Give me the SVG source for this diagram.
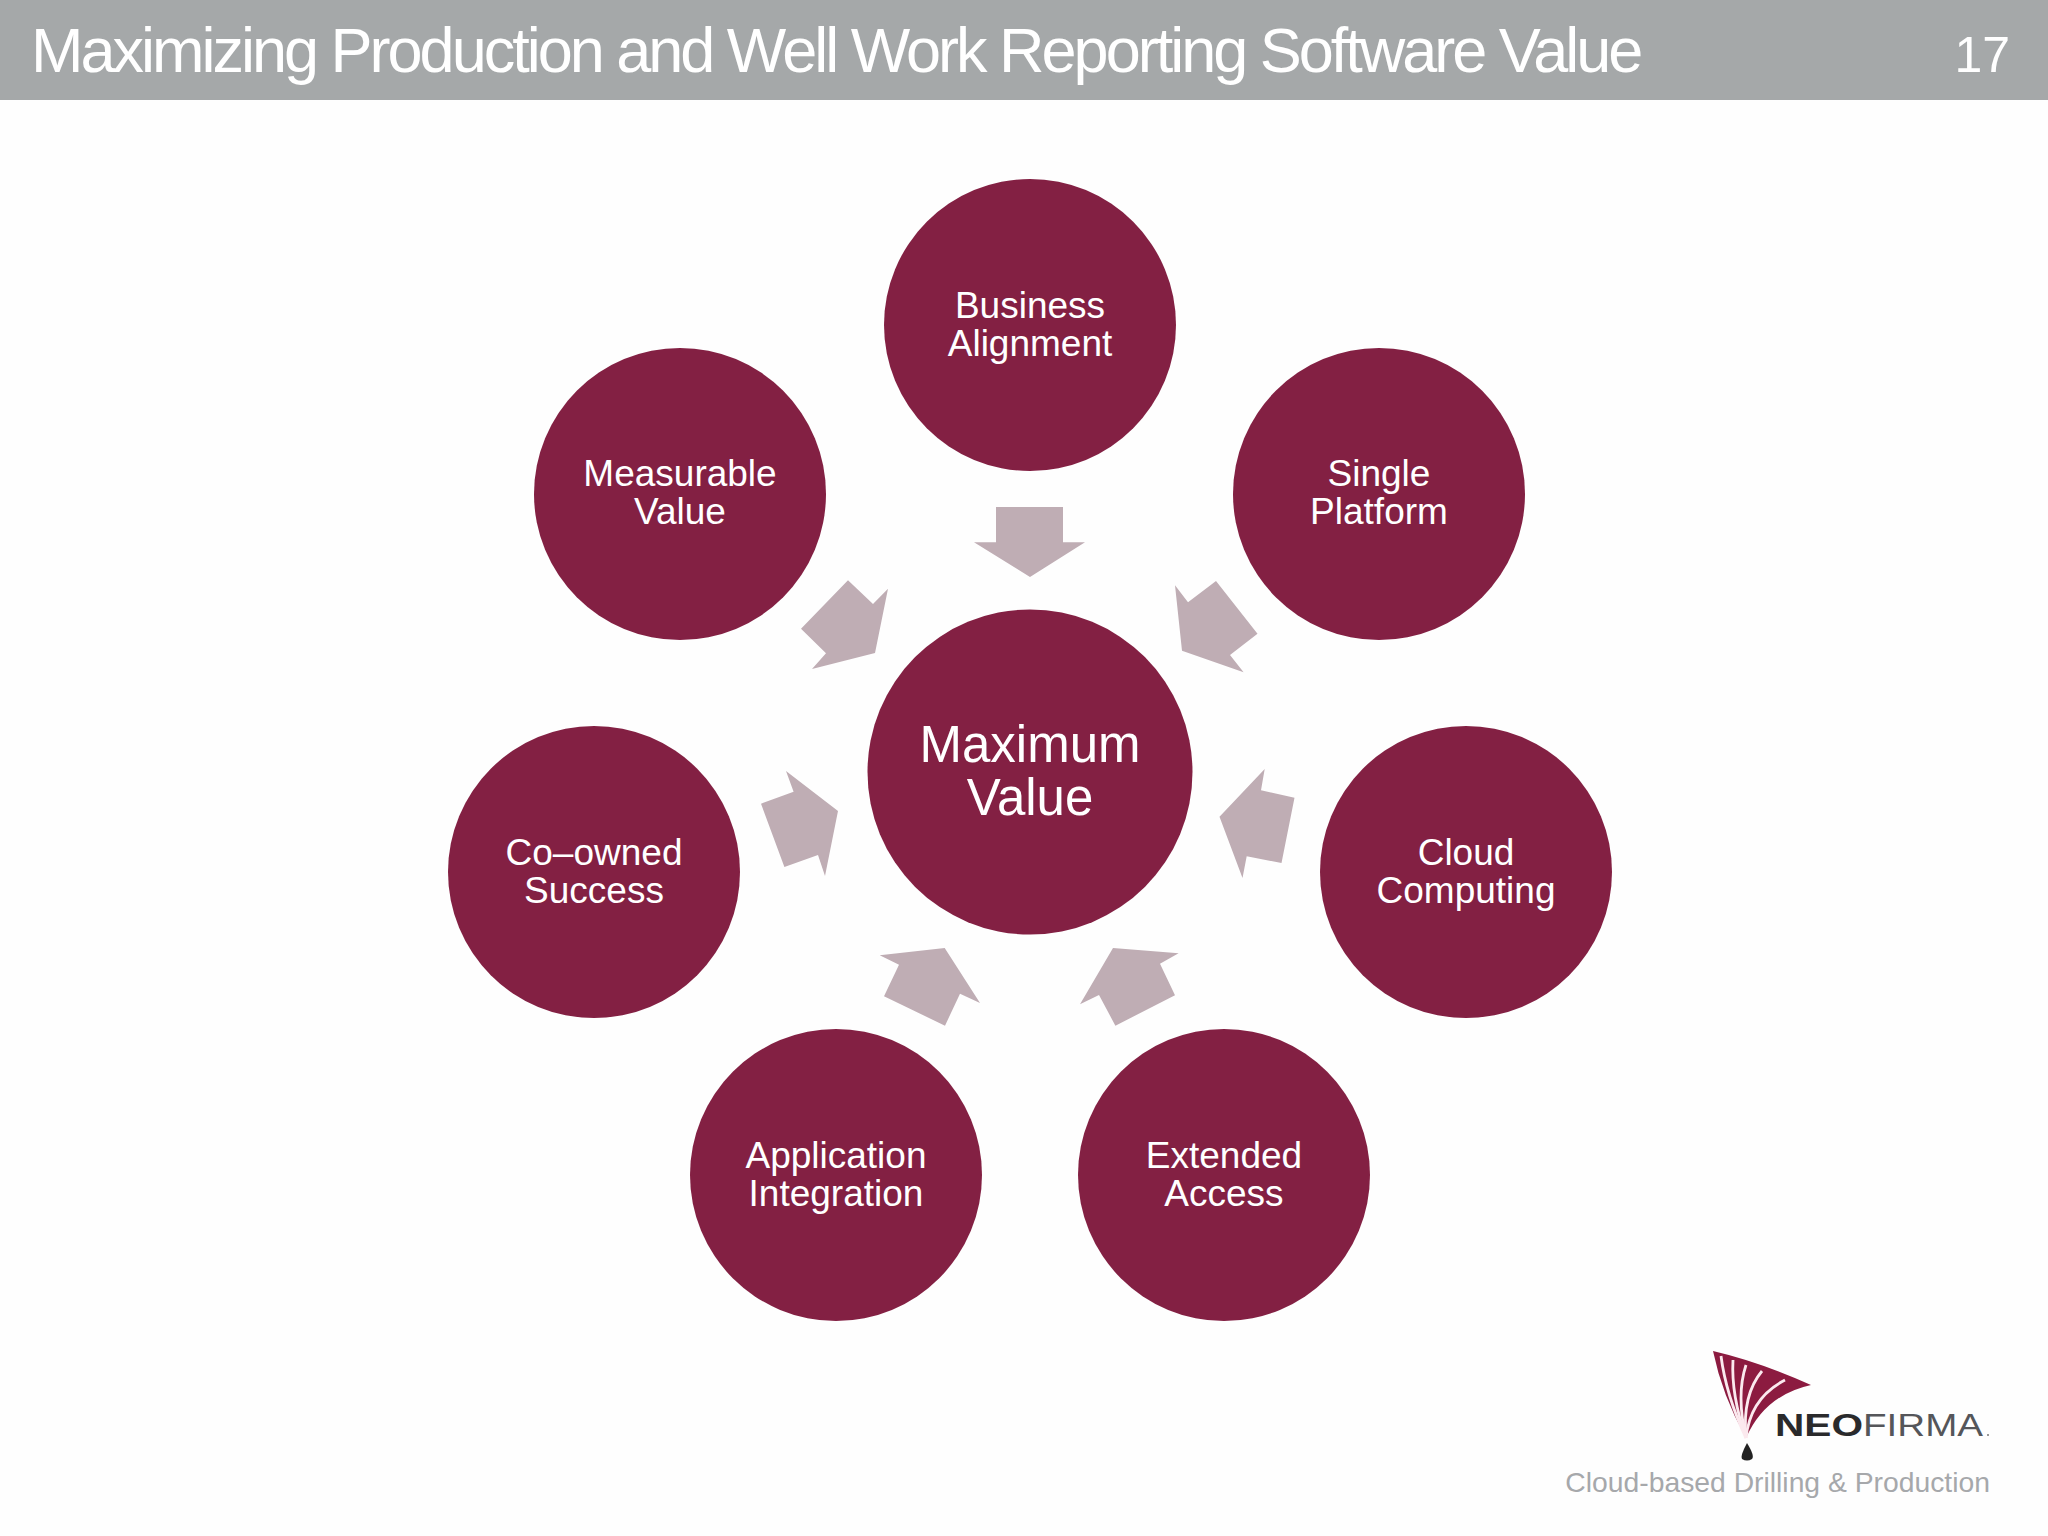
<svg xmlns="http://www.w3.org/2000/svg" width="2048" height="1536" viewBox="0 0 2048 1536">
<style>
text{font-family:"Liberation Sans",Arial,sans-serif}
.c{fill:#832043}
.a{fill:#bfadb4}
.l{fill:#fff;font-size:37px;text-anchor:middle}
.m{fill:#fff;font-size:51px;text-anchor:middle}
.s{fill:none;stroke:#fbe9ee;stroke-width:2.800}
</style>
<rect width="2048" height="1536" fill="#fefefe"/>
<g id="header">
<rect width="2048" height="100" fill="#a5a8a9"/>
<text x="31" y="72" font-size="63" fill="#fff" letter-spacing="-3">Maximizing Production and Well Work Reporting Software Value</text>
<text x="2010" y="72" font-size="50" fill="#fff" text-anchor="end">17</text>
</g>
<g id="connectors">
<polygon class="a" points="996,507 1063,507 1063,542.300 1085,542.300 1030,577 974,542.300 996,542.300"/>
<polygon class="a" points="1216,581 1257.500,633.700 1230,655 1243.600,672.300 1182,650.700 1175,585.300 1188,602.300"/>
<polygon class="a" points="1264.700,769 1261,790.300 1294.500,797.700 1281.500,863 1246.700,856.300 1242.500,878 1219.500,816.700"/>
<polygon class="a" points="1113,948 1178.600,953.300 1160,963.700 1175,995.300 1115.400,1025.700 1099,995 1080,1004.300"/>
<polygon class="a" points="879.700,955.300 944.700,948 980,1003 960,993.700 945,1025.700 884,996.300 899,964.700"/>
<polygon class="a" points="786,771 838,811 825,876 818,855 784.400,867 761,803.700 793.600,791.700"/>
<polygon class="a" points="848,580.300 873,604 888,588.700 875,653 812,669 826,653.300 801,628.700"/>
</g>
<g id="node-center"><circle class="c" cx="1030" cy="772" r="162.500"/><text class="m" x="1030" y="762">Maximum</text><text class="m" x="1030" y="815">Value</text></g>
<g id="node-business"><circle class="c" cx="1030" cy="325" r="146"/><text class="l" x="1030" y="318">Business</text><text class="l" x="1030" y="356">Alignment</text></g>
<g id="node-single"><circle class="c" cx="1379" cy="494" r="146"/><text class="l" x="1379" y="486">Single</text><text class="l" x="1379" y="524">Platform</text></g>
<g id="node-cloud"><circle class="c" cx="1466" cy="872" r="146"/><text class="l" x="1466" y="865">Cloud</text><text class="l" x="1466" y="903">Computing</text></g>
<g id="node-extended"><circle class="c" cx="1224" cy="1175" r="146"/><text class="l" x="1224" y="1168">Extended</text><text class="l" x="1224" y="1206">Access</text></g>
<g id="node-application"><circle class="c" cx="836" cy="1175" r="146"/><text class="l" x="836" y="1168">Application</text><text class="l" x="836" y="1206">Integration</text></g>
<g id="node-coowned"><circle class="c" cx="594" cy="872" r="146"/><text class="l" x="594" y="865">Co–owned</text><text class="l" x="594" y="903">Success</text></g>
<g id="node-measurable"><circle class="c" cx="680" cy="494" r="146"/><text class="l" x="680" y="486">Measurable</text><text class="l" x="680" y="524">Value</text></g>
<g id="logo">
<path d="M1713,1351 Q1760,1362 1811,1385 Q1765,1395 1746,1438 Q1722,1395 1713,1351Z" fill="#8c1b40"/>
<path class="s" d="M1746,1438 Q1726,1395 1721,1356"/>
<path class="s" d="M1746,1438 Q1731,1395 1733,1360"/>
<path class="s" d="M1746,1438 Q1736,1395 1746,1365"/>
<path class="s" d="M1746,1438 Q1742,1395 1762,1371"/>
<path class="s" d="M1746,1438 Q1750,1398 1785,1380"/>
<path d="M1747,1443 Q1755,1456 1752,1459 Q1747,1462 1742,1459 Q1740,1456 1747,1443Z" fill="#222"/>
<text x="1775" y="1436" font-size="32" fill="#2a2a2c" font-weight="bold" textLength="88" lengthAdjust="spacingAndGlyphs">NEO</text>
<text x="1863" y="1436" font-size="32" fill="#55565a" textLength="120" lengthAdjust="spacingAndGlyphs">FIRMA</text>
<circle cx="1988" cy="1435" r="1" fill="#777"/>
<text x="1990" y="1492" font-size="28.300" fill="#a6a8ab" text-anchor="end">Cloud-based Drilling &amp; Production</text>
</g>
</svg>
